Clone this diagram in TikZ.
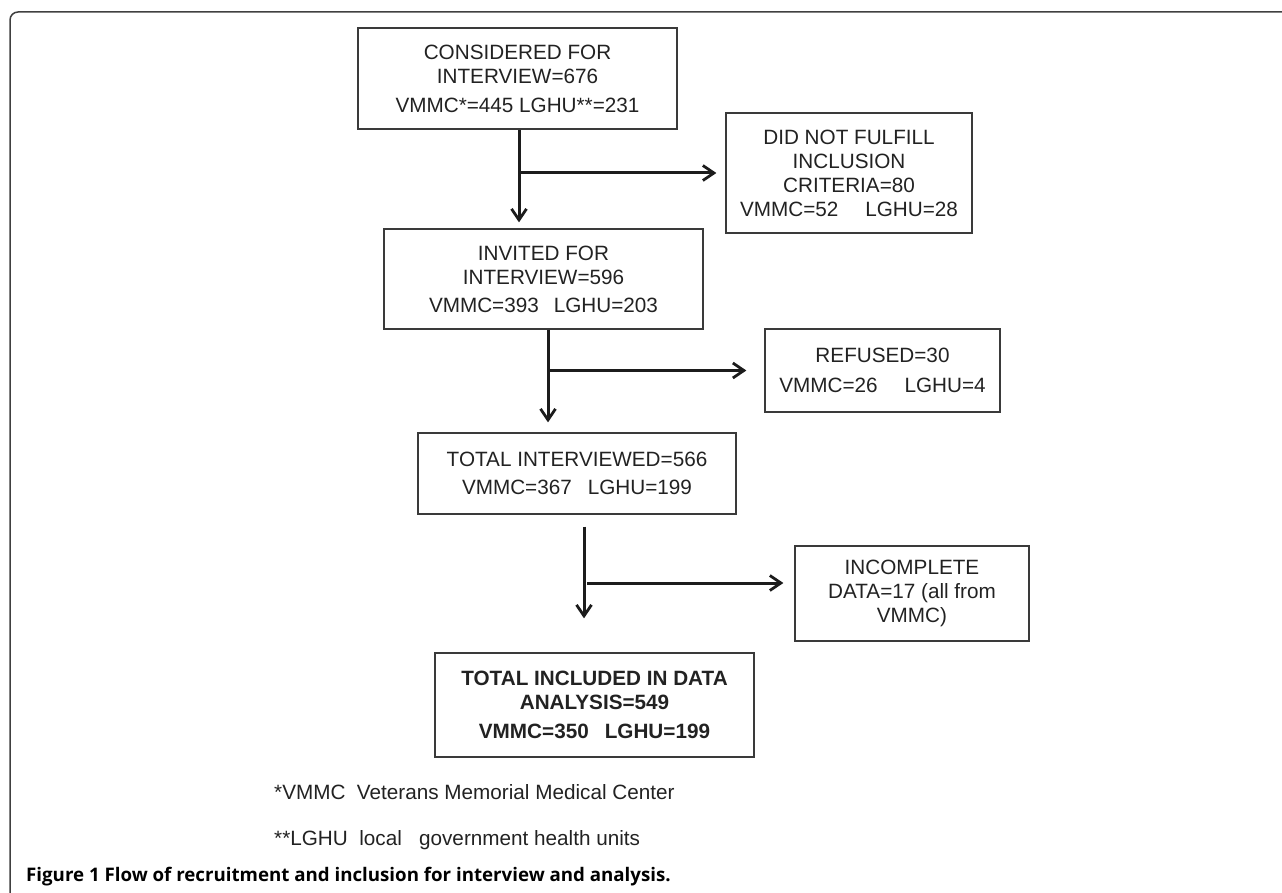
\documentclass[tikz,border=0pt]{standalone}
\usepackage{fontspec}
\setmainfont{Liberation Sans}
\newfontfamily\captionfont{Open Sans}
\usetikzlibrary{arrows.meta}
\definecolor{boxgray}{HTML}{3A3A3A}
\definecolor{arrowblack}{HTML}{1C1C1C}
\definecolor{framegray}{HTML}{404040}
\definecolor{textgray}{HTML}{222222}

\begin{document}
\begin{tikzpicture}[x=1pt,y=-1pt,
    box/.style={draw=boxgray,line width=1.3pt,inner sep=0,align=center,text=textgray,font=\boxfontsize},
    flow/.style={line width=3pt,draw=arrowblack,-{Straight Barb[length=11pt,width=15pt,line width=2.8pt]}},
    note/.style={anchor=west,inner sep=0,text=textgray,font=\boxfontsize}]
    \providecommand{\boxfontsize}{\fontsize{20.7}{24}\selectfont}
    \providecommand{\captionfontsize}{\fontsize{18.7}{21}\selectfont}
    \useasboundingbox (0,0) rectangle (1282,893);
    % open frame, top and left only
    \draw[line width=1.5pt,draw=framegray,rounded corners=8pt] (1284,12) -- (10,12) -- (10,895);
    % boxes of the flow
    \node[box,minimum width=319pt,minimum height=101pt] (consider) at (517.5,78.5)
    {CONSIDERED FOR\\INTERVIEW=676\\[5pt]VMMC*=445 LGHU**=231};
    \node[box,minimum width=246pt,minimum height=120pt] (exclude) at (849,173)
    {DID NOT FULFILL\\INCLUSION\\CRITERIA=80\\VMMC=52\hspace{27pt}LGHU=28};
    \node[box,minimum width=319pt,minimum height=100pt] (invite) at (543.5,279)
    {INVITED FOR\\INTERVIEW=596\\[4pt]VMMC=393\hspace{15pt}LGHU=203};
    \node[box,minimum width=235pt,minimum height=83pt] (refuse) at (882.5,370.5)
    {REFUSED=30\\[6pt]VMMC=26\hspace{27pt}LGHU=4};
    \node[box,minimum width=318pt,minimum height=81pt] (interview) at (577,473.5)
    {TOTAL INTERVIEWED=566\\[4pt]VMMC=367\hspace{16pt}LGHU=199};
    \node[box,minimum width=234pt,minimum height=95pt] (incomplete) at (912,593.5)
    {INCOMPLETE\\DATA=17 (all from\\VMMC)};
    \node[box,minimum width=319pt,minimum height=104pt,font=\boxfontsize\bfseries] (included) at (594.5,705)
    {TOTAL INCLUDED IN DATA\\ANALYSIS=549\\[5pt]VMMC=350\hspace{16pt}LGHU=199};
    % main arrows and side branches
    \draw[flow,shorten >=6pt] ([xshift=1.5pt]consider.south) -- ([xshift=1.5pt]consider.south |- invite.north);
    \draw[flow,shorten >=9pt] ([xshift=1.5pt]consider.south |- exclude.west) -- (exclude.west);
    \draw[flow,shorten >=10pt] ([xshift=4.5pt]invite.south) -- ([xshift=4.5pt]invite.south |- interview.north);
    \draw[flow,shorten >=18pt] ([xshift=4.5pt]invite.south |- refuse.west) -- (refuse.west);
    \coordinate (tap) at ([yshift=10.5pt]incomplete.west);
    \draw[flow,shorten <=12pt,shorten >=34pt] ([xshift=7pt]interview.south) -- ([xshift=7pt]interview.south |- included.north);
    \draw[flow,shorten <=3pt,shorten >=11pt] ([xshift=7pt]interview.south |- tap) -- (tap);
    % footnotes and caption
    \node[note] (notevmmc) at (274,792) {*VMMC\ \ Veterans Memorial Medical Center};
    \node[note] (notelghu) at (274,840) {**LGHU\ \ local\ \ \ government health units};
    \node[anchor=west,inner sep=0,text=black,font=\captionfontsize\captionfont\bfseries] (caption) at (26,877)
    {Figure 1 Flow of recruitment and inclusion for interview and analysis.};
\end{tikzpicture}
\end{document}
